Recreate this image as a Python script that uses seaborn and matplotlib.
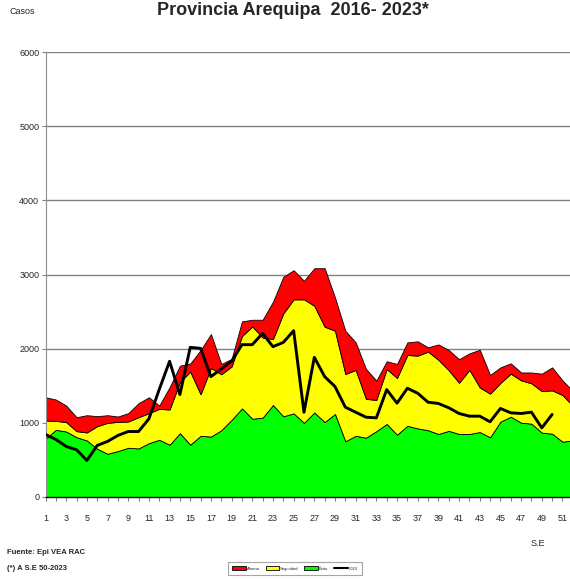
import numpy as np
import pandas as pd
import matplotlib
matplotlib.use("Agg")
import matplotlib.pyplot as plt
import seaborn as sns
from matplotlib.patches import Patch
from matplotlib.lines import Line2D

weeks = list(range(1, 53))

exito = [785, 906, 883, 807, 762, 650, 583, 619, 664, 655, 726, 771, 705, 860, 705, 825,
         815, 900, 1040, 1195, 1055, 1070, 1240, 1088, 1128, 1000, 1140, 1010, 1120, 752,
         825, 800, 888, 985, 840, 960, 925, 900, 850, 892, 850, 850, 876, 805, 1016, 1083,
         1002, 989, 868, 854, 746, 762]
seguridad = [1031, 1027, 1010, 888, 870, 955, 1000, 1013, 1018, 1076, 1130, 1188, 1180,
             1550, 1690, 1385, 1740, 1655, 1760, 2170, 2300, 2150, 2130, 2475, 2665, 2665,
             2578, 2296, 2242, 1659, 1713, 1323, 1309, 1726, 1605, 1915, 1906, 1960, 1850,
             1710, 1540, 1715, 1478, 1393, 1538, 1663, 1573, 1533, 1427, 1438, 1375, 1230]
alarma = [1345, 1314, 1233, 1076, 1103, 1090, 1103, 1085, 1130, 1265, 1345, 1233, 1480,
          1771, 1800, 1980, 2197, 1794, 1861, 2368, 2390, 2390, 2632, 2969, 3058, 2915,
          3085, 3085, 2690, 2242, 2085, 1726, 1570, 1830, 1794, 2085, 2099, 2018, 2057,
          1982, 1858, 1937, 1986, 1645, 1748, 1802, 1679, 1679, 1663, 1748, 1573, 1430]
casos_2023 = [843, 776, 682, 637, 493, 695, 749, 830, 883, 883, 1054, 1450, 1830, 1381,
              2018, 2004, 1623, 1726, 1830, 2054, 2054, 2206, 2027, 2085, 2242, 1143, 1883,
              1623, 1489, 1211, 1143, 1076, 1067, 1448, 1265, 1466, 1399, 1278, 1261, 1203,
              1126, 1090, 1090, 1014, 1194, 1135, 1126, 1144, 932, 1113]

df = pd.DataFrame({"SE": weeks, "Exito": exito, "Seguridad": seguridad, "Alarma": alarma})
df23 = pd.DataFrame({"SE": weeks[:len(casos_2023)], "Casos": casos_2023})

sns.set_style("white")
plt.rcParams['font.family'] = ['Liberation Sans', 'DejaVu Sans']

fig = plt.figure(figsize=(5.70, 5.81), dpi=100)
ax = fig.add_axes([45.5 / 570, 84 / 581, 527.3 / 570, 445 / 581])

# canal endemico: exito / seguridad / alarma
ax.fill_between(df["SE"], 0, df["Exito"], facecolor="#00ff00", edgecolor="black", lw=0.6, zorder=2)
ax.fill_between(df["SE"], df["Exito"], df["Seguridad"], facecolor="#ffff00", edgecolor="black", lw=0.6, zorder=2)
ax.fill_between(df["SE"], df["Seguridad"], df["Alarma"], facecolor="#ff0000", edgecolor="black", lw=0.6, zorder=2)
sns.lineplot(data=df23, x="SE", y="Casos", color="black", lw=2.1, ax=ax, zorder=3)

ax.set_xlim(1, 52)
ax.set_ylim(0, 6000)
ax.set_yticks(range(0, 6001, 1000))
ax.set_xticks(weeks)
ax.set_xticklabels([str(w) if w % 2 == 1 else "" for w in weeks])
ax.yaxis.grid(True, color="#808080", lw=1)
ax.set_axisbelow(True)
ax.set_xlabel("")
ax.set_ylabel("")
for s in ["top", "right"]:
    ax.spines[s].set_visible(False)
ax.spines["left"].set_color("#909090")
ax.spines["bottom"].set_color("black")
ax.spines["bottom"].set_linewidth(1)
ax.tick_params(axis="y", length=3, pad=1.5, color="#808080", labelsize=6.5, left=True)
ax.tick_params(axis="x", length=3, pad=9, color="#808080", labelsize=6.5, bottom=True)

fig.text(0.514, 566 / 581, "Provincia Arequipa  2016- 2023*", ha="center", va="baseline",
         fontsize=13, fontweight="bold")
fig.text(10 / 570, 1 - 11 / 581, "Casos", ha="left", va="center", fontsize=6.5)
fig.text(538 / 570, 1 - 543 / 581, "S.E", ha="center", va="center", fontsize=6.5)
fig.text(7 / 570, 1 - 553 / 581, "Fuente: Epi VEA RAC", ha="left", va="center", fontsize=5.5,
         fontweight="bold")
fig.text(7 / 570, 1 - 568 / 581, "(*) A S.E 50-2023", ha="left", va="center", fontsize=5.5,
         fontweight="bold")

handles = [Patch(facecolor="#ff0000", edgecolor="black", lw=0.6),
           Patch(facecolor="#ffff00", edgecolor="black", lw=0.6),
           Patch(facecolor="#00ff00", edgecolor="black", lw=0.6),
           Line2D([], [], color="black", lw=1.5)]
leg = fig.legend(handles, ["Alarma", "Seguridad", "Éxito", "2023"], loc="center",
                 bbox_to_anchor=(295 / 570, 1 - 568.5 / 581), ncol=4, fontsize=3,
                 handlelength=3.3, handleheight=0.9, columnspacing=1.4, handletextpad=0.2,
                 frameon=True, fancybox=False, borderpad=1.1)
leg.get_frame().set_edgecolor("#909090")
leg.get_frame().set_linewidth(0.8)

fig.savefig("out.png", dpi=100)
